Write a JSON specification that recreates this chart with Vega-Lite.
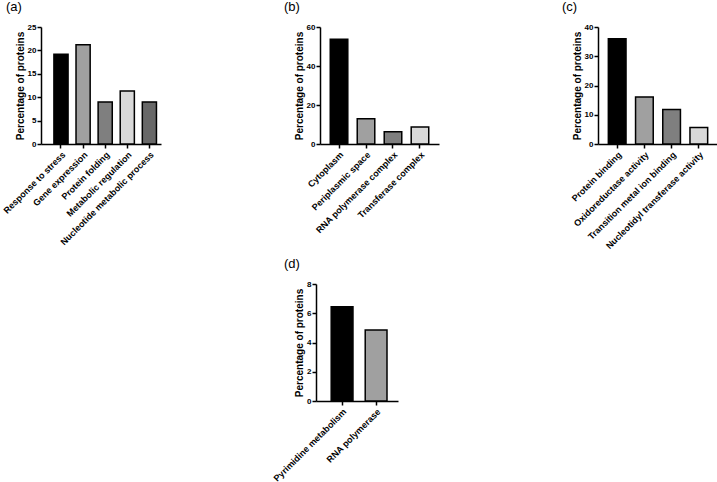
{
  "$schema": "https://vega.github.io/schema/vega-lite/v6.json",
  "background": "white",
  "padding": {"left": 1, "top": 1, "right": 0, "bottom": 0},
  "config": {
    "font": "Liberation Sans",
    "view": {"stroke": null},
    "axis": {
      "grid": false,
      "domainColor": "black",
      "domainWidth": 1.5,
      "tickColor": "black",
      "tickWidth": 1.5,
      "tickSize": 4,
      "labelFont": "Liberation Sans",
      "labelFontWeight": "bold",
      "labelFontSize": 9,
      "labelColor": "black",
      "labelPadding": 2,
      "titleFont": "Liberation Sans",
      "titleFontWeight": "bold",
      "titleFontSize": 10,
      "titleColor": "black",
      "titlePadding": 2
    },
    "axisX": {"labelAngle": -45, "title": null},
    "axisY": {"labelFontSize": 8, "labelPadding": 1},
    "title": {
      "anchor": "start",
      "frame": "group",
      "font": "Liberation Sans",
      "fontSize": 13,
      "fontWeight": "normal",
      "color": "black",
      "offset": 9
    },
    "bar": {"stroke": "black", "strokeWidth": 1.5}
  },
  "datasets": {
    "process": [
      {"category": "Response to stress", "value": 19.2},
      {"category": "Gene expression", "value": 21.2},
      {"category": "Protein folding", "value": 9.0},
      {"category": "Metabolic regulation", "value": 11.3},
      {"category": "Nucleotide metabolic process", "value": 9.0}
    ],
    "component": [
      {"category": "Cytoplasm", "value": 53.7},
      {"category": "Periplasmic space", "value": 12.9},
      {"category": "RNA polymerase complex", "value": 6.3},
      {"category": "Transferase complex", "value": 8.7}
    ],
    "function": [
      {"category": "Protein binding", "value": 36.0},
      {"category": "Oxidoreductase activity", "value": 16.1},
      {"category": "Transition metal ion binding", "value": 11.8},
      {"category": "Nucleotidyl transferase activity", "value": 5.6}
    ],
    "pathway": [
      {"category": "Pyrimidine metabolism", "value": 6.45},
      {"category": "RNA polymerase", "value": 4.86}
    ]
  },
  "bounds": "flush",
  "spacing": 257,
  "resolve": {"scale": {"color": "independent"}},
  "vconcat": [
    {
      "bounds": "flush",
      "spacing": 159,
      "resolve": {"scale": {"color": "independent"}},
      "hconcat": [
        {
          "title": {"text": "(a)", "dx": -35},
          "width": 120,
          "height": 117,
          "data": {"name": "process"},
          "mark": {"type": "bar"},
          "encoding": {
            "x": {
              "field": "category", "type": "nominal", "sort": null,
              "scale": {"paddingInner": 0.36, "paddingOuter": 0.395, "align": 0.74}
            },
            "y": {
              "field": "value", "type": "quantitative",
              "scale": {"domain": [0, 25]},
              "axis": {"values": [0, 5, 10, 15, 20, 25], "title": "Percentage of proteins"}
            },
            "color": {
              "field": "category", "type": "nominal", "legend": null,
              "scale": {
                "domain": ["Response to stress", "Gene expression", "Protein folding", "Metabolic regulation", "Nucleotide metabolic process"],
                "range": ["#000000", "#a0a0a0", "#7f7f7f", "#d9d9d9", "#686868"]
              }
            }
          }
        },
        {
          "title": {"text": "(b)", "dx": -36},
          "width": 119,
          "height": 117,
          "data": {"name": "component"},
          "mark": {"type": "bar"},
          "encoding": {
            "x": {
              "field": "category", "type": "nominal", "sort": null,
              "scale": {"paddingInner": 0.35, "paddingOuter": 0.38, "align": 0.5}
            },
            "y": {
              "field": "value", "type": "quantitative",
              "scale": {"domain": [0, 60]},
              "axis": {"values": [0, 20, 40, 60], "title": "Percentage of proteins"}
            },
            "color": {
              "field": "category", "type": "nominal", "legend": null,
              "scale": {
                "domain": ["Cytoplasm", "Periplasmic space", "RNA polymerase complex", "Transferase complex"],
                "range": ["#000000", "#a0a0a0", "#7f7f7f", "#d9d9d9"]
              }
            }
          }
        },
        {
          "title": {"text": "(c)", "dx": -36},
          "width": 120,
          "height": 117,
          "data": {"name": "function"},
          "mark": {"type": "bar"},
          "encoding": {
            "x": {
              "field": "category", "type": "nominal", "sort": null,
              "scale": {"paddingInner": 0.35, "paddingOuter": 0.38, "align": 0.5}
            },
            "y": {
              "field": "value", "type": "quantitative",
              "scale": {"domain": [0, 40]},
              "axis": {"values": [0, 10, 20, 30, 40], "title": "Percentage of proteins"}
            },
            "color": {
              "field": "category", "type": "nominal", "legend": null,
              "scale": {
                "domain": ["Protein binding", "Oxidoreductase activity", "Transition metal ion binding", "Nucleotidyl transferase activity"],
                "range": ["#000000", "#a0a0a0", "#7f7f7f", "#d9d9d9"]
              }
            }
          }
        }
      ]
    },
    {
      "bounds": "flush",
      "spacing": 10,
      "resolve": {"scale": {"color": "independent"}},
      "hconcat": [
        {
          "width": 265,
          "height": 117,
          "data": {"values": []},
          "mark": {"type": "point", "opacity": 0},
          "encoding": {}
        },
        {
          "title": {"text": "(d)", "dx": -32},
          "width": 82,
          "height": 117,
          "data": {"name": "pathway"},
          "mark": {"type": "bar"},
          "encoding": {
            "x": {
              "field": "category", "type": "nominal", "sort": null,
              "scale": {"paddingInner": 0.36, "paddingOuter": 0.385, "align": 0.58}
            },
            "y": {
              "field": "value", "type": "quantitative",
              "scale": {"domain": [0, 8]},
              "axis": {"values": [0, 2, 4, 6, 8], "title": "Percentage of proteins"}
            },
            "color": {
              "field": "category", "type": "nominal", "legend": null,
              "scale": {
                "domain": ["Pyrimidine metabolism", "RNA polymerase"],
                "range": ["#000000", "#a0a0a0"]
              }
            }
          }
        }
      ]
    }
  ]
}
